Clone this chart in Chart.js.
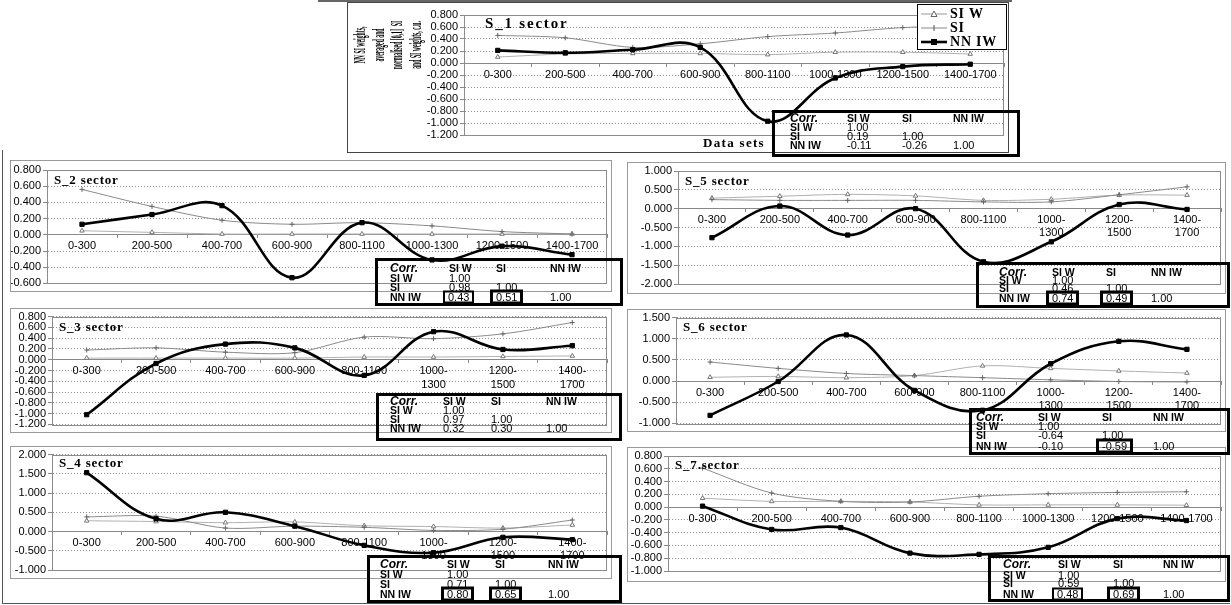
<!DOCTYPE html>
<html>
<head>
<meta charset="utf-8">
<script src="https://cdn.jsdelivr.net/npm/chart.js@4.4.1/dist/chart.umd.min.js"></script>
<style>
  html, body { margin: 0; padding: 0; background: #fff; }
  body { width: 1231px; height: 605px; position: relative; overflow: hidden;
         font-family: "Liberation Sans", Arial, sans-serif; color: #000; }
  .frame { position: absolute; box-sizing: border-box; border: 1px solid #9a9a9a; }
  .line { position: absolute; background: #555; }
  canvas.panel { position: absolute; }
  .title { position: absolute; font: bold 13px "Liberation Serif", "Times New Roman", serif;
           letter-spacing: 0.8px; white-space: nowrap; line-height: 1; transform: translateY(-50%); }
  .corr { position: absolute; box-sizing: border-box; border: 3px solid #000; }
  .corr span { position: absolute; white-space: nowrap; line-height: 1; transform: translateY(-50%);
               font-size: 11px; }
  .corr .hd { font-weight: bold; font-size: 10.5px; }
  .corr .cap { font-weight: bold; font-style: italic; font-size: 12px; }
  .corr .box { border: 3px solid #000; padding: 0 3px; line-height: 9px; margin-left: -6px; }
  .corr .box.thin { border-width: 2px; }
  #ytitle { position: absolute; left: 298px; top: 8px; width: 180px; height: 74px;
            font: bold 16px "Liberation Serif", "Times New Roman", serif; line-height: 18.5px;
            text-align: center; white-space: nowrap; transform: rotate(-90deg) scaleX(0.36); }
  #xtitle { position: absolute; left: 734px; top: 143px; transform: translate(-50%, -50%);
            font: bold 13px "Liberation Serif", "Times New Roman", serif; letter-spacing: 1.3px; white-space: nowrap; }
  #legend { position: absolute; left: 917px; top: 4px; width: 90px; height: 46px; box-sizing: border-box;
            border: 1px solid #000; background: #fff; }
  #legend div { position: absolute; left: 3px; height: 14px; display: flex; align-items: center;
                font: bold 14px "Liberation Serif", "Times New Roman", serif; letter-spacing: 0.8px; white-space: nowrap; }
  #legend svg { margin-right: 3px; }
</style>
</head>
<body>
<script>
// Depth ranges of the data sets (category axis)
const ranges = ['0-300', '200-500', '400-700', '600-900', '800-1100', '1000-1300', '1200-1500', '1400-1700'];
const rangesWrapped = ['0-300', '200-500', '400-700', '600-900', '800-1100', ['1000-', '1300'], ['1200-', '1500'], ['1400-', '1700']];

// S_1 sector
const siwS1  = [0.10, 0.15, 0.16, 0.16, 0.14, 0.18, 0.18, 0.15];
const siS1   = [0.46, 0.42, 0.26, 0.32, 0.44, 0.50, 0.59, 0.62];
const nniwS1 = [0.21, 0.17, 0.22, 0.26, -0.97, -0.25, -0.06, -0.02];
// S_2 sector
const siwS2  = [0.05, 0.03, 0.01, 0.01, 0.01, 0.01, 0.01, 0.01];
const siS2   = [0.56, 0.35, 0.18, 0.13, 0.15, 0.11, 0.04, 0.01];
const nniwS2 = [0.13, 0.25, 0.36, -0.53, 0.15, -0.31, -0.14, -0.245];
// S_3 sector
const siwS3  = [0.03, 0.03, 0.03, 0.03, 0.05, 0.05, 0.06, 0.07];
const siS3   = [0.18, 0.22, 0.14, 0.13, 0.42, 0.39, 0.48, 0.69];
const nniwS3 = [-1.02, -0.07, 0.29, 0.22, -0.29, 0.52, 0.19, 0.26];
// S_4 sector
const siwS4  = [0.28, 0.26, 0.23, 0.25, 0.15, 0.13, 0.09, 0.17];
const siS4   = [0.38, 0.40, 0.09, 0.14, 0.11, 0.03, 0.06, 0.30];
const nniwS4 = [1.53, 0.33, 0.50, 0.14, -0.36, -0.55, -0.15, -0.21];
// S_5 sector
const siwS5  = [0.28, 0.33, 0.38, 0.34, 0.22, 0.25, 0.36, 0.36];
const siS5   = [0.24, 0.22, 0.22, 0.22, 0.18, 0.18, 0.37, 0.58];
const nniwS5 = [-0.77, 0.07, -0.70, 0.00, -1.41, -0.88, 0.11, -0.02];
// S_6 sector
const siwS6  = [0.09, 0.11, 0.08, 0.13, 0.36, 0.30, 0.24, 0.19];
const siS6   = [0.45, 0.30, 0.18, 0.13, 0.08, 0.03, -0.01, -0.02];
const nniwS6 = [-0.81, -0.01, 1.09, -0.22, -0.69, 0.41, 0.94, 0.75];
// S_7 sector
const siwS7  = [0.14, 0.09, 0.09, 0.08, 0.035, 0.035, 0.035, 0.03];
const siS7   = [0.61, 0.22, 0.09, 0.08, 0.17, 0.21, 0.23, 0.24];
const nniwS7 = [0.015, -0.35, -0.32, -0.72, -0.74, -0.63, -0.18, -0.21];

// Correlation coefficients per sector (S_1 ... S_7)
const corrSiVsSiw   = ['0.19', '0.98', '0.97', '0.71', '0.46', '-0.64', '0.59'];
const corrNnVsSiw   = ['-0.11', '0.43', '0.32', '0.80', '0.74', '-0.10', '0.48'];
const corrNnVsSi    = ['-0.26', '0.51', '0.30', '0.65', '0.49', '-0.59', '0.69'];
// Framed coefficients: '' none, 'thin', 'thick'
const markNnVsSiw   = ['', 'thin', '', 'thick', 'thick', '', 'thin'];
const markNnVsSi    = ['', 'thick', '', 'thick', 'thick', 'thick', 'thick'];

const sectorTitles = ['S_1  sector', 'S_2 sector', 'S_3 sector', 'S_4 sector', 'S_5 sector', 'S_6 sector', 'S_7.sector'];

// Panel geometry: frame [x1,y1,x2,y2], plot area [x1,y1,x2,y2], correlation table
const panels = [
  { siw: siwS1, si: siS1, nn: nniwS1, min: -1.2, max: 0.8, step: 0.2, labels: ranges,
    frame: [347, 2, 1009, 153], plot: [464, 15, 1004, 135],
    table: { x: 772, y: 110, w: 248, h: 47, cols: [790, 847, 902, 953], rows: [118, 127, 136, 145] } },
  { siw: siwS2, si: siS2, nn: nniwS2, min: -0.6, max: 0.8, step: 0.2, labels: ranges,
    frame: [10, 160, 612, 292], plot: [47, 170, 607, 284],
    table: { x: 375, y: 258, w: 248, h: 48, cols: [390, 449, 496, 550], rows: [268, 278, 287, 297] } },
  { siw: siwS3, si: siS3, nn: nniwS3, min: -1.2, max: 0.8, step: 0.2, labels: rangesWrapped,
    frame: [10, 308, 612, 433], plot: [52, 314, 607, 427],
    table: { x: 376, y: 393, w: 246, h: 48, cols: [390, 443, 491, 546], rows: [401, 410, 419, 428] } },
  { siw: siwS4, si: siS4, nn: nniwS4, min: -1.0, max: 2.0, step: 0.5, labels: rangesWrapped,
    frame: [10, 446, 612, 579], plot: [52, 453, 607, 570],
    table: { x: 367, y: 555, w: 255, h: 48, cols: [380, 447, 495, 548], rows: [564, 574, 584, 594] } },
  { siw: siwS5, si: siS5, nn: nniwS5, min: -2.0, max: 1.0, step: 0.5, labels: rangesWrapped,
    frame: [627, 162, 1226, 294], plot: [678, 171, 1222, 284],
    table: { x: 976, y: 262, w: 254, h: 46, cols: [999, 1052, 1106, 1151], rows: [272, 280, 288, 298] } },
  { siw: siwS6, si: siS6, nn: nniwS6, min: -1.0, max: 1.5, step: 0.5, labels: rangesWrapped,
    frame: [627, 309, 1226, 432], plot: [676, 314, 1222, 425],
    table: { x: 969, y: 408, w: 261, h: 47, cols: [976, 1038, 1102, 1153], rows: [417, 426, 435, 446] } },
  { siw: siwS7, si: siS7, nn: nniwS7, min: -1.0, max: 0.8, step: 0.2, labels: ranges,
    frame: [627, 447, 1226, 582], plot: [668, 456, 1222, 571],
    table: { x: 988, y: 555, w: 242, h: 47, cols: [1003, 1058, 1113, 1163], rows: [564, 575, 583, 594] } }
];

const fmt3 = v => (Math.abs(v) < 1e-9 ? 0 : v).toFixed(3);
const tickFont = { family: '"Liberation Sans", Arial, sans-serif', size: 11 };

// Thin grey border around the plot area
const plotFrame = {
  id: 'plotFrame',
  beforeDatasetsDraw(chart) {
    const { ctx, chartArea: a } = chart;
    ctx.save();
    ctx.strokeStyle = '#8c8c8c';
    ctx.lineWidth = 1;
    ctx.strokeRect(Math.round(a.left) + 0.5, Math.round(a.top) + 0.5,
                   Math.round(a.right - a.left) - 1, Math.round(a.bottom - a.top));
    ctx.restore();
  }
};

function addDiv(cls, style, html) {
  const d = document.createElement('div');
  if (cls) d.className = cls;
  Object.assign(d.style, style);
  if (html !== undefined) d.innerHTML = html;
  document.body.appendChild(d);
  return d;
}

// Outer page rules
addDiv('line', { left: '318px', top: '0px', width: '694px', height: '2px', background: '#666' });
addDiv('line', { left: '2px', top: '150px', width: '1px', height: '454px' });
addDiv('line', { left: '2px', top: '603px', width: '1228px', height: '1px' });

panels.forEach((p, i) => {
  const [fx1, fy1, fx2, fy2] = p.frame;
  const [px1, py1, px2, py2] = p.plot;
  const W = fx2 - fx1, H = fy2 - fy1;
  const cv = document.createElement('canvas');
  cv.className = 'panel';
  cv.width = W; cv.height = H;
  cv.style.left = fx1 + 'px'; cv.style.top = fy1 + 'px';
  cv.style.width = W + 'px'; cv.style.height = H + 'px';
  document.body.appendChild(cv);
  addDiv('frame', { left: fx1 + 'px', top: fy1 + 'px', width: W + 'px', height: H + 'px',
                    borderColor: i === 0 ? '#444' : '#9a9a9a' });

  new Chart(cv, {
    type: 'line',
    data: {
      labels: p.labels,
      datasets: [
        { label: 'NN IW', data: p.nn, order: 0, borderColor: '#000', backgroundColor: '#000',
          borderWidth: 2.6, tension: 0.4, pointStyle: 'rect', pointRadius: 3,
          pointBackgroundColor: '#000', pointBorderColor: '#000', pointBorderWidth: 1 },
        { label: 'SI', data: p.si, order: 1, borderColor: '#8a8a8a', borderWidth: 1, tension: 0.3,
          pointStyle: 'cross', pointRadius: 2.5, pointBorderColor: '#666', pointBorderWidth: 1 },
        { label: 'SI W', data: p.siw, order: 2, borderColor: '#b0b0b0', borderWidth: 1, tension: 0.3,
          pointStyle: 'triangle', pointRadius: 2.6, pointBackgroundColor: '#fff',
          pointBorderColor: '#777', pointBorderWidth: 1 }
      ]
    },
    options: {
      responsive: false, animation: false, devicePixelRatio: 1,
      layout: { padding: { left: 0, top: py1 - fy1, right: fx2 - px2, bottom: fy2 - py2 } },
      plugins: { legend: { display: false }, tooltip: { enabled: false } },
      scales: {
        x: {
          type: 'category', offset: true, position: { y: 0 },
          grid: { display: true, drawOnChartArea: false, drawTicks: true, tickLength: 3,
                  offset: true, color: '#888' },
          border: { display: true, color: '#888', width: 1 },
          ticks: { font: tickFont, color: '#000', padding: 2, maxRotation: 0, autoSkip: false }
        },
        y: {
          min: p.min, max: p.max,
          ticks: { stepSize: p.step, autoSkip: false, font: tickFont, color: '#000', padding: 2,
                   callback: v => fmt3(v) },
          grid: { color: '#8f8f8f', tickLength: 4, tickColor: '#888' },
          border: { display: true, color: '#888', dash: [1, 2] },
          afterFit: s => { s.width = px1 - fx1; }
        }
      }
    },
    plugins: [plotFrame]
  });

  // Sector caption inside the plot area
  const t = addDiv('title', { left: (i === 0 ? 485 : px1 + 7) + 'px',
                              top: [23, 179, 326, 462, 180, 326, 464][i] + 'px' }, sectorTitles[i]);
  if (i === 0) { t.style.fontSize = '15px'; t.style.letterSpacing = '1.8px'; }
});

// Correlation tables
panels.forEach((p, i) => {
  const tb = p.table;
  const box = addDiv('corr', { left: tb.x + 'px', top: tb.y + 'px', width: tb.w + 'px', height: tb.h + 'px' });
  const put = (cls, col, row, text) => {
    const s = document.createElement('span');
    if (cls) s.className = cls;
    s.textContent = text;
    s.style.left = (tb.cols[col] - tb.x - 3) + 'px';
    s.style.top = (tb.rows[row] - tb.y - 3) + 'px';
    box.appendChild(s);
  };
  put('cap', 0, 0, 'Corr.');
  put('hd', 1, 0, 'SI W');
  put('hd', 2, 0, 'SI');
  put('hd', 3, 0, 'NN IW');
  put('hd', 0, 1, 'SI W');
  put('hd', 0, 2, 'SI');
  put('hd', 0, 3, 'NN IW');
  put('', 1, 1, '1.00');
  put('', 1, 2, corrSiVsSiw[i]);
  put('', 2, 2, '1.00');
  put(markNnVsSiw[i] ? 'box ' + markNnVsSiw[i] : '', 1, 3, corrNnVsSiw[i]);
  put(markNnVsSi[i] ? 'box ' + markNnVsSi[i] : '', 2, 3, corrNnVsSi[i]);
  put('', 3, 3, '1.00');
});

// Axis titles and legend of the S_1 panel
addDiv('', {}, '').id = 'ytitle';
document.getElementById('ytitle').innerHTML = 'NN SI weights,<br>averaged and<br>normalised [0,1]&nbsp; SI<br>and SI weights, c.u.';
addDiv('', {}, 'Data sets').id = 'xtitle';

const legend = addDiv('', {}, '');
legend.id = 'legend';
const legendItems = [
  { text: 'SI W', y: 2, svg: '<line x1="0" y1="7" x2="26" y2="7" stroke="#999" stroke-width="1"/><polygon points="13,4 16,9.5 10,9.5" fill="#fff" stroke="#666" stroke-width="1"/>' },
  { text: 'SI', y: 16, svg: '<line x1="0" y1="7" x2="26" y2="7" stroke="#888" stroke-width="1"/><line x1="13" y1="4" x2="13" y2="10" stroke="#555" stroke-width="1"/>' },
  { text: 'NN IW', y: 30, svg: '<line x1="0" y1="7" x2="26" y2="7" stroke="#000" stroke-width="2.6"/><rect x="10" y="4" width="6" height="6" fill="#000"/>' }
];
legendItems.forEach(it => {
  const d = document.createElement('div');
  d.style.top = it.y + 'px';
  d.innerHTML = '<svg width="26" height="14">' + it.svg + '</svg>' + it.text;
  legend.appendChild(d);
});
</script>
</body>
</html>
